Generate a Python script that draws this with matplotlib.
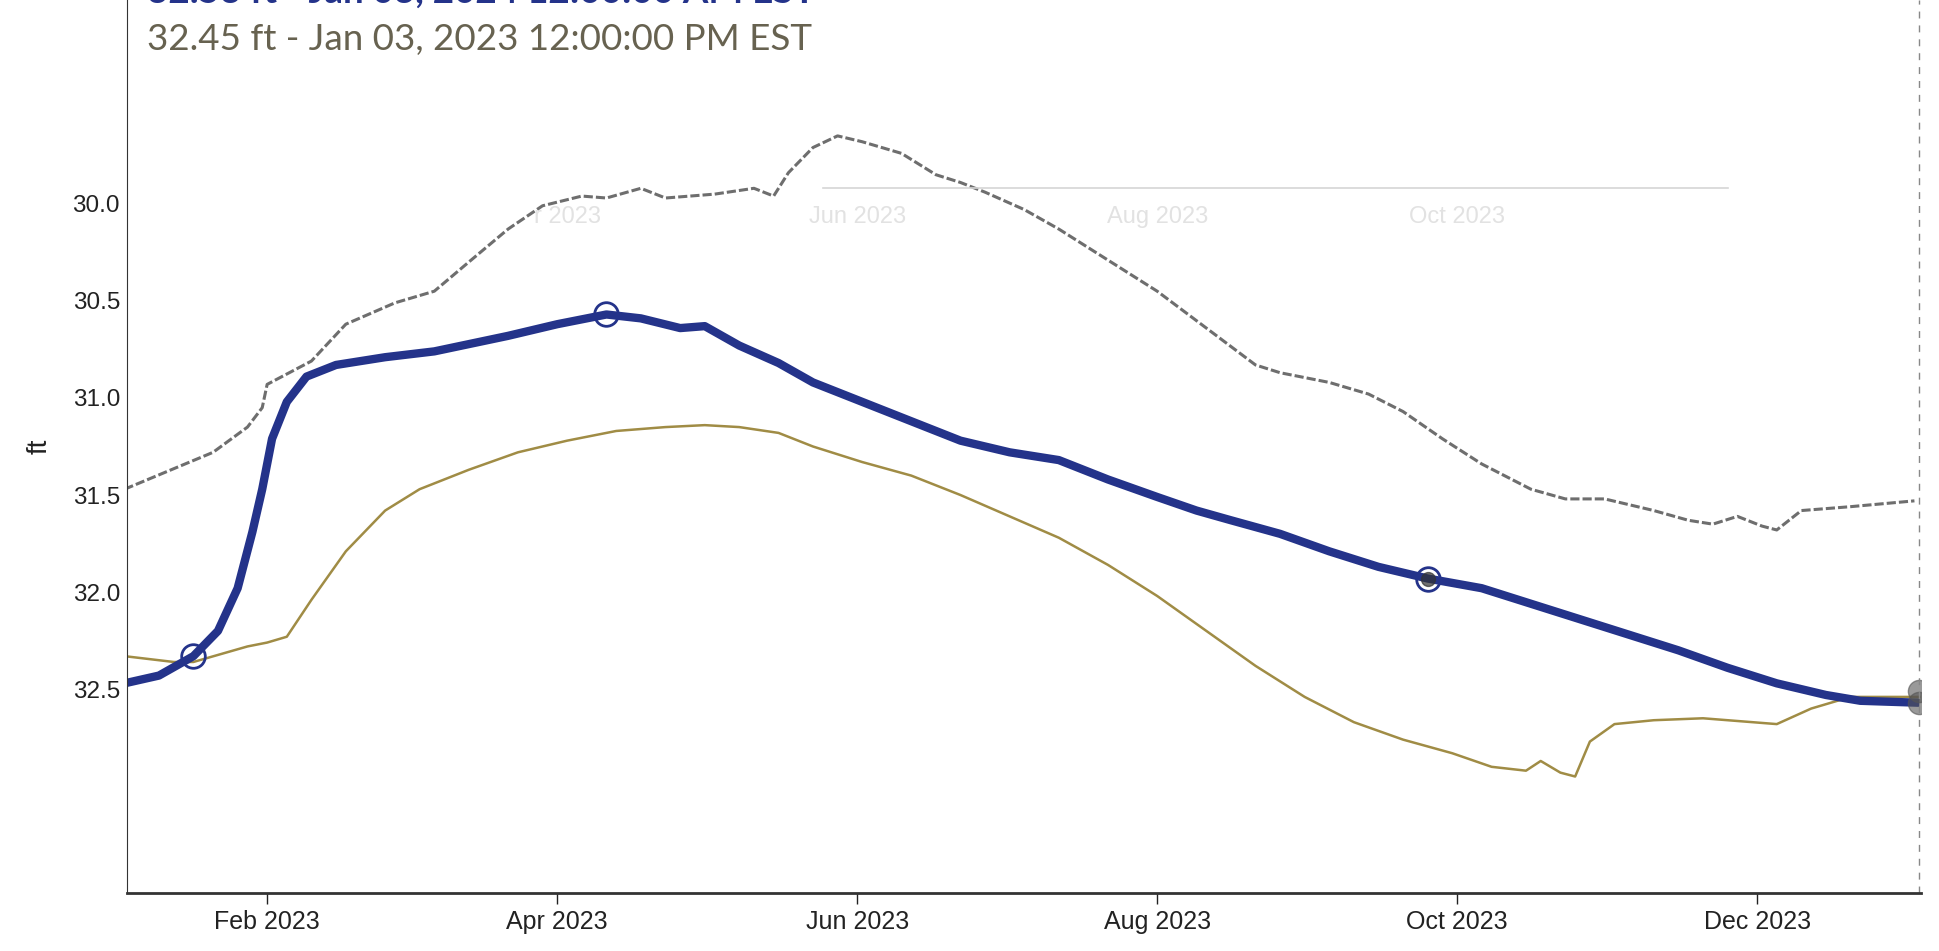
import matplotlib
matplotlib.use("Agg")
import matplotlib.pyplot as plt
import matplotlib.dates as mdates
import numpy as np
import pandas as pd

# datos (ft, eje invertido)
fechas_actual = ["2023-01-03", "2023-01-10", "2023-01-17", "2023-01-22", "2023-01-26",
                 "2023-01-29", "2023-01-31", "2023-02-02", "2023-02-05", "2023-02-09",
                 "2023-02-15", "2023-02-25", "2023-03-07", "2023-03-22", "2023-04-01",
                 "2023-04-11", "2023-04-18", "2023-04-26", "2023-05-01", "2023-05-08",
                 "2023-05-16", "2023-05-23", "2023-06-02", "2023-06-12", "2023-06-22",
                 "2023-07-02", "2023-07-12", "2023-07-22", "2023-08-01", "2023-08-09",
                 "2023-08-16", "2023-08-26", "2023-09-05", "2023-09-15", "2023-09-25",
                 "2023-10-06", "2023-10-16", "2023-10-26", "2023-11-05", "2023-11-15",
                 "2023-11-25", "2023-12-05", "2023-12-15", "2023-12-22", "2024-01-03"]
nivel_actual = [32.47, 32.43, 32.33, 32.20, 31.98, 31.69, 31.47, 31.21, 31.02, 30.89,
                30.83, 30.79, 30.76, 30.68, 30.62, 30.57, 30.59, 30.64, 30.63, 30.73,
                30.82, 30.92, 31.02, 31.12, 31.22, 31.28, 31.32, 31.42, 31.51, 31.58,
                31.63, 31.70, 31.79, 31.87, 31.93, 31.98, 32.06, 32.14, 32.22, 32.30,
                32.39, 32.47, 32.53, 32.56, 32.57]

fechas_oro = ["2023-01-03", "2023-01-13", "2023-01-17", "2023-01-28", "2023-02-01",
              "2023-02-05", "2023-02-10", "2023-02-17", "2023-02-25", "2023-03-04",
              "2023-03-14", "2023-03-24", "2023-04-03", "2023-04-13", "2023-04-23",
              "2023-05-01", "2023-05-08", "2023-05-16", "2023-05-23", "2023-06-02",
              "2023-06-12", "2023-06-22", "2023-07-02", "2023-07-12", "2023-07-22",
              "2023-08-01", "2023-08-11", "2023-08-21", "2023-08-31", "2023-09-10",
              "2023-09-20", "2023-09-30", "2023-10-08", "2023-10-15", "2023-10-18",
              "2023-10-22", "2023-10-25", "2023-10-28", "2023-11-02", "2023-11-10",
              "2023-11-20", "2023-11-30", "2023-12-05", "2023-12-12", "2023-12-20",
              "2024-01-03"]
nivel_oro = [32.33, 32.36, 32.36, 32.28, 32.26, 32.23, 32.04, 31.79, 31.58, 31.47,
             31.37, 31.28, 31.22, 31.17, 31.15, 31.14, 31.15, 31.18, 31.25, 31.33,
             31.40, 31.50, 31.61, 31.72, 31.86, 32.02, 32.20, 32.38, 32.54, 32.67,
             32.76, 32.83, 32.90, 32.92, 32.87, 32.93, 32.95, 32.77, 32.68, 32.66,
             32.65, 32.67, 32.68, 32.60, 32.54, 32.54]

fechas_gris = ["2023-01-03", "2023-01-21", "2023-01-28", "2023-01-31", "2023-02-01",
               "2023-02-10", "2023-02-17", "2023-02-27", "2023-03-07", "2023-03-14",
               "2023-03-22", "2023-03-29", "2023-04-06", "2023-04-11", "2023-04-18",
               "2023-04-23", "2023-05-03", "2023-05-11", "2023-05-15", "2023-05-18",
               "2023-05-23", "2023-05-28", "2023-06-02", "2023-06-10", "2023-06-17",
               "2023-06-22", "2023-06-27", "2023-07-05", "2023-07-12", "2023-07-22",
               "2023-08-01", "2023-08-11", "2023-08-21", "2023-08-26", "2023-09-05",
               "2023-09-13", "2023-09-20", "2023-09-28", "2023-10-06", "2023-10-16",
               "2023-10-23", "2023-10-31", "2023-11-10", "2023-11-17", "2023-11-22",
               "2023-11-27", "2023-12-02", "2023-12-05", "2023-12-10", "2023-12-20",
               "2024-01-02"]
nivel_gris = [31.47, 31.28, 31.15, 31.05, 30.93, 30.81, 30.62, 30.51, 30.45, 30.30,
              30.13, 30.01, 29.96, 29.97, 29.92, 29.97, 29.95, 29.92, 29.96, 29.84,
              29.71, 29.65, 29.68, 29.74, 29.85, 29.89, 29.94, 30.03, 30.13, 30.29,
              30.45, 30.64, 30.83, 30.87, 30.92, 30.98, 31.07, 31.21, 31.34, 31.47,
              31.52, 31.52, 31.58, 31.63, 31.65, 31.61, 31.66, 31.68, 31.58, 31.56,
              31.53]

# puntos marcados sobre la serie azul
fechas_marca = ["2023-01-17", "2023-04-11", "2023-09-25"]
nivel_marca = [32.33, 30.57, 31.93]
fechas_fin = ["2024-01-03", "2024-01-03"]
nivel_fin = [32.51, 32.57]

titulo = "32.45 ft - Jan 03, 2023 12:00:00 PM EST"
titulo_arriba = "32.53 ft - Jan 03, 2024 12:00:00 AM EST"

fa = pd.to_datetime(fechas_actual)
fo = pd.to_datetime(fechas_oro)
fg = pd.to_datetime(fechas_gris)
fm = pd.to_datetime(fechas_marca)
ff = pd.to_datetime(fechas_fin)

plt.rcParams['font.family'] = ['Liberation Sans', 'DejaVu Sans']

fig = plt.figure(figsize=(19.39, 9.51), dpi=100)
ax = fig.add_axes([0.0655, 0.061, 0.925, 0.939])

azul = '#24338a'
oro = '#a08c45'
gris = '#6e6e6e'

ax.plot(fg, nivel_gris, color=gris, lw=2.2, dashes=(3, 1))
ax.plot(fo, nivel_oro, color=oro, lw=1.8)
ax.plot(fa, nivel_actual, color=azul, lw=6, solid_capstyle='butt')
ax.plot(fm, nivel_marca, 'o', ms=17, mfc='none', mec=azul, mew=2)
ax.plot(fm[-1:], nivel_marca[-1:], 'o', ms=10, color='#333333', alpha=0.7)
ax.plot(ff, nivel_fin, 'o', ms=16, color='#555555', alpha=0.6)

# linea discontinua al final
ax.axvline(pd.Timestamp("2024-01-03"), color='#888888', lw=1, ls=(0, (5, 5)))

# restos de la otra cara del papel escaneado
ax.plot(pd.to_datetime(["2023-05-25", "2023-11-25"]), [29.92, 29.92], color='#d6d6d6', lw=1.2)
for f, t in [("2023-04-03", "r 2023"), ("2023-06-01", "Jun 2023"),
             ("2023-08-01", "Aug 2023"), ("2023-10-01", "Oct 2023")]:
    ax.text(pd.Timestamp(f), 30.07, t, color='#e2e2e2', fontsize=17, ha='center', va='center')

ax.set_xlim(pd.Timestamp("2023-01-03 12:00"), pd.Timestamp("2024-01-03 06:00"))
ax.set_ylim(33.55, 28.95)
ax.set_yticks([30.0, 30.5, 31.0, 31.5, 32.0, 32.5])
ax.yaxis.set_major_formatter(matplotlib.ticker.FormatStrFormatter('%.1f'))
ax.xaxis.set_major_locator(mdates.MonthLocator(bymonth=[2, 4, 6, 8, 10, 12]))
ax.xaxis.set_major_formatter(mdates.DateFormatter('%b %Y'))
ax.tick_params(axis='y', length=0, labelsize=17.5, pad=5, colors='#222222')
ax.tick_params(axis='x', length=8, width=1, labelsize=18, pad=4, colors='#222222')
ax.set_ylabel('ft', fontsize=20, labelpad=14, color='#222222')

ax.spines['top'].set_visible(False)
ax.spines['right'].set_visible(False)
ax.spines['left'].set_color('#333333')
ax.spines['bottom'].set_color('#333333')
ax.spines['bottom'].set_linewidth(2)

fig.text(0.076, 0.958, titulo, fontsize=26.5, color='#676250', family=['Lato', 'DejaVu Sans'],
         ha='left', va='center')
fig.text(0.076, 0.997, titulo_arriba, fontsize=26.5, color=azul, fontweight='bold',
         family=['Lato', 'DejaVu Sans'], ha='left', va='baseline')

fig.savefig('out.png', dpi=100)
